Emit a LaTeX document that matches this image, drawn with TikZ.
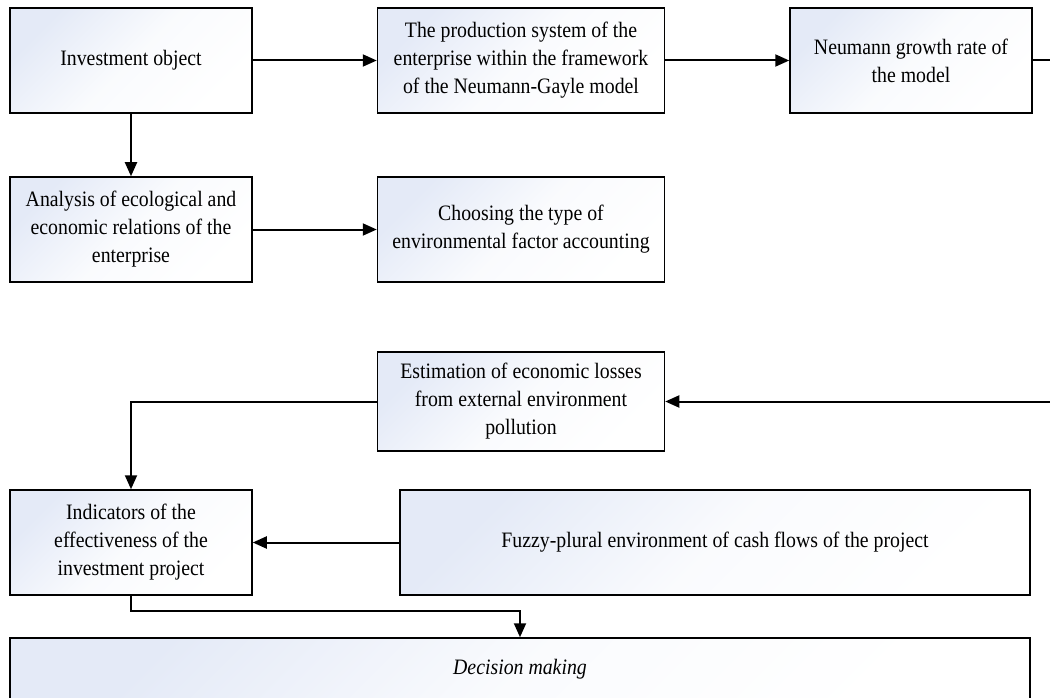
\documentclass[tikz,border=0pt]{standalone}
\usepackage{fontspec}
\setmainfont[FakeStretch=0.9]{Liberation Serif}
\usepackage{tikz}
\usetikzlibrary{arrows.meta,shapes}
\definecolor{boxblue}{RGB}{228,234,247}

\begin{document}
\begin{tikzpicture}[x=1pt,y=-1pt,
		flowbox/.style={draw, line width=1.5pt, top color=boxblue, bottom color=white, middle color=white!80!boxblue, shading angle=45, align=center, inner sep=4pt, font=\fontsize{22}{28}\selectfont},
		link/.style={->,>={Triangle[length=14pt,width=12pt]}, line width=2pt}]
		\useasboundingbox (0,0) rectangle (1050,698);

		\node[flowbox, minimum width=242pt, minimum height=105pt] (inv) at (131,60.5) {Investment object};
		\node[flowbox, minimum width=287pt, minimum height=105pt] (prod) at (521,60.5) {The production system of the\\enterprise within the framework\\of the Neumann-Gayle model};
		\node[flowbox, minimum width=242pt, minimum height=105pt] (neu) at (911,60.5) {Neumann growth rate of\\the model};

		\node[flowbox, minimum width=242pt, minimum height=105pt] (ana) at (131,229.5) {Analysis of ecological and\\economic relations of the\\enterprise};
		\node[flowbox, minimum width=287pt, minimum height=105pt] (cho) at (521,229.5) {Choosing the type of\\environmental factor accounting};

		\node[flowbox, minimum width=287pt, minimum height=99pt] (est) at (521,401.5) {Estimation of economic losses\\from external environment\\pollution};

		\node[flowbox, minimum width=242pt, minimum height=105pt] (ind) at (131,542.5) {Indicators of the\\effectiveness of the\\investment project};
		\node[flowbox, minimum width=630pt, minimum height=105pt] (fuz) at (715,542.5) {Fuzzy-plural environment of cash flows of the project};

		\node[flowbox, minimum width=1020pt, minimum height=62pt] (dec) at (520,669) {\textit{Decision making}};

		\draw[link] (inv.east) -- (prod.west);
		\draw[link] (prod.east) -- (neu.west);
		\draw[link] (inv.south) -- (ana.north);
		\draw[link] (ana.east) -- (cho.west);
		\draw[link] (neu.east) -- ++(30,0) |- (est.east);
		\draw[link] (est.west) -| (ind.north);
		\draw[link] (fuz.west) -- (ind.east);
		\draw[link] (ind.south) -- ++(0,15) -| (dec.north);
	\end{tikzpicture}
\end{document}
